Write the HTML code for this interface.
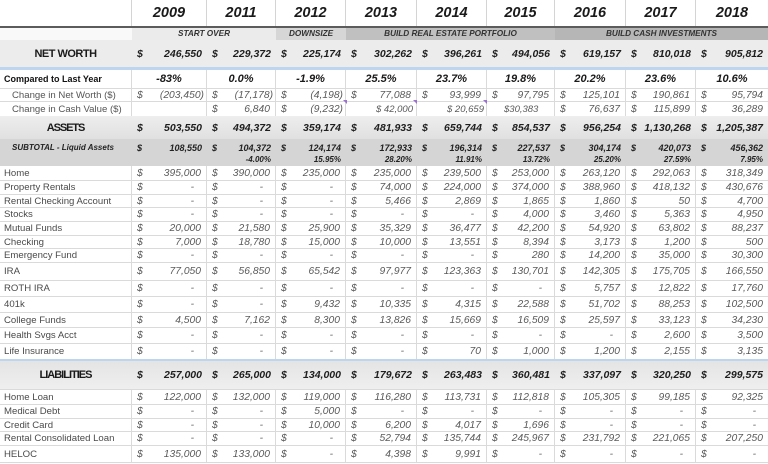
<!DOCTYPE html>
<html><head><meta charset="utf-8">
<style>
body{margin:0;width:768px;height:464px;overflow:hidden;background:#fff;font-family:"Liberation Sans",sans-serif;position:relative}
.r{position:absolute;left:0;width:768px;display:flex;border-bottom:1px solid #dadada;box-sizing:border-box}
.r>div{box-sizing:border-box;border-right:1px solid #dadada;display:flex;align-items:center;justify-content:space-between;padding:0 5px;height:100%;white-space:nowrap;font-style:italic;font-size:10.3px;color:#5a5a5a;position:relative}
.r>div:nth-child(1){width:132px;padding-left:4px;justify-content:flex-start;font-style:normal;font-size:9.6px;color:#4a4a4a}
.r>div:nth-child(2){width:75px}
.r>div:nth-child(3){width:69px}
.r>div:nth-child(4){width:70px}
.r>div:nth-child(5){width:71px}
.r>div:nth-child(6){width:70px}
.r>div:nth-child(7){width:68px}
.r>div:nth-child(8){width:71px}
.r>div:nth-child(9){width:70px}
.r>div:nth-child(10){width:72px;border-right:none}
.r i{font-style:italic}
.r u{text-decoration:none;margin-right:7px}
.r em{font-style:italic;margin-right:-3px}
.h{border-bottom:2px solid #5c5c5c}
.h>div{justify-content:center !important;font-weight:bold;font-size:14.5px !important;color:#1a1a1a !important;border-right-color:#d4d4d4 !important}
.b>div{border-right:none;font-weight:bold;font-size:10.5px;color:#1e1e1e}
.b>div:nth-child(1){justify-content:center;font-size:11px;color:#1a1a1a;font-weight:bold}
.sb{position:absolute;top:28px;height:12px;font-weight:bold;font-style:italic;font-size:8.2px;color:#333;text-align:center;line-height:12px}
.cp>div{justify-content:center;font-weight:bold;font-size:11px;color:#1a1a1a}
.cp>div:nth-child(1){justify-content:flex-start;font-weight:bold;font-size:9px;color:#111}
.ch>div:nth-child(1){padding-left:12px;color:#555}
.st>div{display:block;border-right:none;font-weight:bold;font-size:9px;color:#222}
.st i{position:absolute;left:5px;top:3px;line-height:12px}
.st b{position:absolute;right:5px;top:3px;line-height:12px}
.st s{position:absolute;right:5px;top:16px;line-height:10px;text-decoration:none;font-size:8px}
.st>div:nth-child(1){position:relative}
.st>div:nth-child(1) span{position:absolute;left:12px;top:3px;line-height:12px;font-weight:bold;font-style:italic;font-size:8px;color:#222}
.tri{position:absolute;width:0;height:0;border-top:4px solid #9a70d0;border-left:4px solid transparent}
</style></head><body>

<!-- header -->
<div class="r h" style="top:0;height:28px"><div></div><div>2009</div><div>2011</div><div>2012</div><div>2013</div><div>2014</div><div>2015</div><div>2016</div><div>2017</div><div>2018</div></div>

<!-- subheader -->
<div class="sb" style="left:0;width:132px;background:#f9f9f9"></div>
<div class="sb" style="left:132px;width:144px;background:#ebebeb">START OVER</div>
<div class="sb" style="left:276px;width:70px;background:#d6d6d6">DOWNSIZE</div>
<div class="sb" style="left:346px;width:209px;background:#c0c0c0">BUILD REAL ESTATE PORTFOLIO</div>
<div class="sb" style="left:555px;width:213px;background:#b6b6b6">BUILD CASH INVESTMENTS</div>

<!-- net worth -->
<div class="r b" style="top:40px;height:27px;background:#ececec;border-bottom:none"><div style="letter-spacing:-0.5px">NET WORTH</div><div><i>$</i>246,550</div><div><i>$</i>229,372</div><div><i>$</i>225,174</div><div><i>$</i>302,262</div><div><i>$</i>396,261</div><div><i>$</i>494,056</div><div><i>$</i>619,157</div><div><i>$</i>810,018</div><div><i>$</i>905,812</div></div>
<div style="position:absolute;left:0;top:67px;width:768px;height:3px;background:#bdd5ee"></div>

<!-- compared -->
<div class="r cp" style="top:70px;height:19px"><div>Compared to Last Year</div><div>-83%</div><div>0.0%</div><div>-1.9%</div><div>25.5%</div><div>23.7%</div><div>19.8%</div><div>20.2%</div><div>23.6%</div><div>10.6%</div></div>
<div class="r ch" style="top:89px;height:13px"><div>Change in Net Worth ($)</div><div><i>$</i><em>(203,450)</em></div><div><i>$</i><em>(17,178)</em></div><div><i>$</i><em>(4,198)</em></div><div><i>$</i>77,088</div><div><i>$</i>93,999</div><div><i>$</i>97,795</div><div><i>$</i>125,101</div><div><i>$</i>190,861</div><div><i>$</i>95,794</div></div>
<div class="r ch" style="top:102px;height:14px;border-bottom:none"><div>Change in Cash Value ($)</div><div></div><div><i>$</i>6,840</div><div><i>$</i><em>(9,232)</em></div><div style="justify-content:flex-start;padding-left:30px;font-size:9.5px">$ 42,000</div><div style="justify-content:flex-start;padding-left:30px;font-size:9.5px">$ 20,659</div><div style="justify-content:flex-start;padding-left:17px;font-size:9.5px">$30,383</div><div><i>$</i>76,637</div><div><i>$</i>115,899</div><div><i>$</i>36,289</div></div>
<div class="tri" style="left:343px;top:100px"></div>
<div class="tri" style="left:413px;top:100px"></div>
<div class="tri" style="left:483px;top:100px"></div>

<!-- assets -->
<div class="r b" style="top:116px;height:23px;background:linear-gradient(#eeeeee,#e0e0e0);border-bottom:none"><div style="letter-spacing:-1.1px">ASSETS</div><div><i>$</i>503,550</div><div><i>$</i>494,372</div><div><i>$</i>359,174</div><div><i>$</i>481,933</div><div><i>$</i>659,744</div><div><i>$</i>854,537</div><div><i>$</i>956,254</div><div><i>$</i>1,130,268</div><div><i>$</i>1,205,387</div></div>
<div class="r st" style="top:139px;height:27px;background:#d5d5d5;border-bottom:none"><div><span>SUBTOTAL - Liquid Assets</span></div><div><i>$</i><b>108,550</b></div><div><i>$</i><b>104,372</b><s>-4.00%</s></div><div><i>$</i><b>124,174</b><s>15.95%</s></div><div><i>$</i><b>172,933</b><s>28.20%</s></div><div><i>$</i><b>196,314</b><s>11.91%</s></div><div><i>$</i><b>227,537</b><s>13.72%</s></div><div><i>$</i><b>304,174</b><s>25.20%</s></div><div><i>$</i><b>420,073</b><s>27.59%</s></div><div><i>$</i><b>456,362</b><s>7.95%</s></div></div>

<div class="r" style="top:166px;height:15px"><div>Home</div><div><i>$</i>395,000</div><div><i>$</i>390,000</div><div><i>$</i>235,000</div><div><i>$</i>235,000</div><div><i>$</i>239,500</div><div><i>$</i>253,000</div><div><i>$</i>263,120</div><div><i>$</i>292,063</div><div><i>$</i>318,349</div></div>
<div class="r" style="top:181px;height:14px"><div>Property Rentals</div><div><i>$</i><u>-</u></div><div><i>$</i><u>-</u></div><div><i>$</i><u>-</u></div><div><i>$</i>74,000</div><div><i>$</i>224,000</div><div><i>$</i>374,000</div><div><i>$</i>388,960</div><div><i>$</i>418,132</div><div><i>$</i>430,676</div></div>
<div class="r" style="top:195px;height:13px"><div>Rental Checking Account</div><div><i>$</i><u>-</u></div><div><i>$</i><u>-</u></div><div><i>$</i><u>-</u></div><div><i>$</i>5,466</div><div><i>$</i>2,869</div><div><i>$</i>1,865</div><div><i>$</i>1,860</div><div><i>$</i>50</div><div><i>$</i>4,700</div></div>
<div class="r" style="top:208px;height:14px"><div>Stocks</div><div><i>$</i><u>-</u></div><div><i>$</i><u>-</u></div><div><i>$</i><u>-</u></div><div><i>$</i><u>-</u></div><div><i>$</i><u>-</u></div><div><i>$</i>4,000</div><div><i>$</i>3,460</div><div><i>$</i>5,363</div><div><i>$</i>4,950</div></div>
<div class="r" style="top:222px;height:14px"><div>Mutual Funds</div><div><i>$</i>20,000</div><div><i>$</i>21,580</div><div><i>$</i>25,900</div><div><i>$</i>35,329</div><div><i>$</i>36,477</div><div><i>$</i>42,200</div><div><i>$</i>54,920</div><div><i>$</i>63,802</div><div><i>$</i>88,237</div></div>
<div class="r" style="top:236px;height:13px"><div>Checking</div><div><i>$</i>7,000</div><div><i>$</i>18,780</div><div><i>$</i>15,000</div><div><i>$</i>10,000</div><div><i>$</i>13,551</div><div><i>$</i>8,394</div><div><i>$</i>3,173</div><div><i>$</i>1,200</div><div><i>$</i>500</div></div>
<div class="r" style="top:249px;height:14px"><div>Emergency Fund</div><div><i>$</i><u>-</u></div><div><i>$</i><u>-</u></div><div><i>$</i><u>-</u></div><div><i>$</i><u>-</u></div><div><i>$</i><u>-</u></div><div><i>$</i>280</div><div><i>$</i>14,200</div><div><i>$</i>35,000</div><div><i>$</i>30,300</div></div>
<div class="r" style="top:263px;height:18px"><div>IRA</div><div><i>$</i>77,050</div><div><i>$</i>56,850</div><div><i>$</i>65,542</div><div><i>$</i>97,977</div><div><i>$</i>123,363</div><div><i>$</i>130,701</div><div><i>$</i>142,305</div><div><i>$</i>175,705</div><div><i>$</i>166,550</div></div>
<div class="r" style="top:281px;height:16px"><div>ROTH IRA</div><div><i>$</i><u>-</u></div><div><i>$</i><u>-</u></div><div><i>$</i><u>-</u></div><div><i>$</i><u>-</u></div><div><i>$</i><u>-</u></div><div><i>$</i><u>-</u></div><div><i>$</i>5,757</div><div><i>$</i>12,822</div><div><i>$</i>17,760</div></div>
<div class="r" style="top:297px;height:16px"><div>401k</div><div><i>$</i><u>-</u></div><div><i>$</i><u>-</u></div><div><i>$</i>9,432</div><div><i>$</i>10,335</div><div><i>$</i>4,315</div><div><i>$</i>22,588</div><div><i>$</i>51,702</div><div><i>$</i>88,253</div><div><i>$</i>102,500</div></div>
<div class="r" style="top:313px;height:15px"><div>College Funds</div><div><i>$</i>4,500</div><div><i>$</i>7,162</div><div><i>$</i>8,300</div><div><i>$</i>13,826</div><div><i>$</i>15,669</div><div><i>$</i>16,509</div><div><i>$</i>25,597</div><div><i>$</i>33,123</div><div><i>$</i>34,230</div></div>
<div class="r" style="top:328px;height:16px"><div>Health Svgs Acct</div><div><i>$</i><u>-</u></div><div><i>$</i><u>-</u></div><div><i>$</i><u>-</u></div><div><i>$</i><u>-</u></div><div><i>$</i><u>-</u></div><div><i>$</i><u>-</u></div><div><i>$</i><u>-</u></div><div><i>$</i>2,600</div><div><i>$</i>3,500</div></div>
<div class="r" style="top:344px;height:15px;border-bottom:none"><div>Life Insurance</div><div><i>$</i><u>-</u></div><div><i>$</i><u>-</u></div><div><i>$</i><u>-</u></div><div><i>$</i><u>-</u></div><div><i>$</i>70</div><div><i>$</i>1,000</div><div><i>$</i>1,200</div><div><i>$</i>2,155</div><div><i>$</i>3,135</div></div>
<div style="position:absolute;left:0;top:359px;width:768px;height:2px;background:#bdd5ee"></div>

<!-- liabilities -->
<div class="r b" style="top:361px;height:29px;background:linear-gradient(#e4e4e4,#efefef)"><div style="letter-spacing:-1px">LIABILITIES</div><div><i>$</i>257,000</div><div><i>$</i>265,000</div><div><i>$</i>134,000</div><div><i>$</i>179,672</div><div><i>$</i>263,483</div><div><i>$</i>360,481</div><div><i>$</i>337,097</div><div><i>$</i>320,250</div><div><i>$</i>299,575</div></div>
<div class="r" style="top:390px;height:15px"><div>Home Loan</div><div><i>$</i>122,000</div><div><i>$</i>132,000</div><div><i>$</i>119,000</div><div><i>$</i>116,280</div><div><i>$</i>113,731</div><div><i>$</i>112,818</div><div><i>$</i>105,305</div><div><i>$</i>99,185</div><div><i>$</i>92,325</div></div>
<div class="r" style="top:405px;height:14px"><div>Medical Debt</div><div><i>$</i><u>-</u></div><div><i>$</i><u>-</u></div><div><i>$</i>5,000</div><div><i>$</i><u>-</u></div><div><i>$</i><u>-</u></div><div><i>$</i><u>-</u></div><div><i>$</i><u>-</u></div><div><i>$</i><u>-</u></div><div><i>$</i><u>-</u></div></div>
<div class="r" style="top:419px;height:13px"><div>Credit Card</div><div><i>$</i><u>-</u></div><div><i>$</i><u>-</u></div><div><i>$</i>10,000</div><div><i>$</i>6,200</div><div><i>$</i>4,017</div><div><i>$</i>1,696</div><div><i>$</i><u>-</u></div><div><i>$</i><u>-</u></div><div><i>$</i><u>-</u></div></div>
<div class="r" style="top:432px;height:14px"><div>Rental Consolidated Loan</div><div><i>$</i><u>-</u></div><div><i>$</i><u>-</u></div><div><i>$</i><u>-</u></div><div><i>$</i>52,794</div><div><i>$</i>135,744</div><div><i>$</i>245,967</div><div><i>$</i>231,792</div><div><i>$</i>221,065</div><div><i>$</i>207,250</div></div>
<div class="r" style="top:446px;height:17px"><div>HELOC</div><div><i>$</i>135,000</div><div><i>$</i>133,000</div><div><i>$</i><u>-</u></div><div><i>$</i>4,398</div><div><i>$</i>9,991</div><div><i>$</i><u>-</u></div><div><i>$</i><u>-</u></div><div><i>$</i><u>-</u></div><div><i>$</i><u>-</u></div></div>

</body></html>
